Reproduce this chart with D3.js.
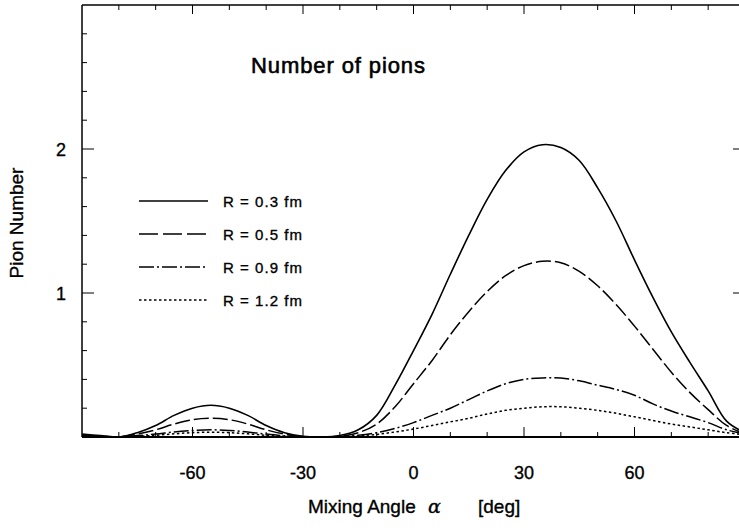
<!DOCTYPE html>
<html>
<head>
<meta charset="utf-8">
<script src="https://cdn.jsdelivr.net/npm/d3@7"></script>
<style>
  html, body { margin: 0; padding: 0; background: #fff; }
  svg { display: block; }
  text { font-family: "Liberation Sans", Arial, sans-serif; fill: #000; stroke: #000; stroke-width: 0.35; }
</style>
</head>
<body>
<script>
// ---- data ----
const angles = [-90,-85,-80,-75,-70,-65,-60,-55,-50,-45,-40,-35,-30,-25,-20,-15,-10,-5,0,5,10,15,20,25,30,35,40,45,50,55,60,65,70,75,80,85,90];
const r03 = [0.02,0.01,0.0,0.03,0.08,0.15,0.20,0.22,0.20,0.15,0.08,0.03,0.005,0.0,0.01,0.05,0.15,0.36,0.60,0.85,1.13,1.40,1.65,1.85,1.98,2.03,2.01,1.92,1.73,1.50,1.23,0.97,0.73,0.52,0.32,0.11,0.03];
const r05 = [0.012,0.006,0.0,0.02,0.05,0.09,0.12,0.13,0.12,0.09,0.05,0.02,0.003,0.0,0.006,0.03,0.09,0.21,0.37,0.53,0.71,0.87,1.01,1.12,1.19,1.22,1.21,1.15,1.05,0.92,0.77,0.61,0.45,0.31,0.19,0.08,0.02];
const r09 = [0.01,0.005,0.0,0.01,0.02,0.035,0.045,0.05,0.045,0.035,0.02,0.008,0.002,0.0,0.003,0.012,0.03,0.06,0.10,0.15,0.20,0.26,0.32,0.37,0.40,0.41,0.41,0.39,0.36,0.33,0.29,0.23,0.18,0.14,0.10,0.05,0.02];
const r12 = [0.005,0.003,0.0,0.005,0.012,0.022,0.03,0.033,0.03,0.022,0.012,0.005,0.001,0.0,0.002,0.008,0.018,0.035,0.055,0.08,0.105,0.13,0.16,0.185,0.20,0.21,0.21,0.20,0.185,0.165,0.14,0.115,0.09,0.07,0.05,0.03,0.015];
const seriesLabels = ["R = 0.3 fm", "R = 0.5 fm", "R = 0.9 fm", "R = 1.2 fm"];
const xTickLabels = [-60, -30, 0, 30, 60];
const yTickLabels = [1, 2];
const titleText = "Number of pions";
const xLabelText = "Mixing Angle";
const yLabelText = "Pion Number";

// ---- styles ----
const dashes = [null, "15,4", "15,3,2,3", "2.5,2.5"];
const seriesVals = [r03, r05, r09, r12];

const W = 739, H = 528;
const svg = d3.select("body").append("svg").attr("width", W).attr("height", H);

const x = d3.scaleLinear().domain([-90, 90]).range([82, 745]);
const y = d3.scaleLinear().domain([0, 3]).range([437, 5]);

// frame
const frame = svg.append("g").attr("fill", "none").attr("stroke", "#000");
frame.append("line").attr("x1", 82).attr("x2", 745).attr("y1", 437).attr("y2", 437).attr("stroke-width", 2);
frame.append("line").attr("x1", 82).attr("x2", 745).attr("y1", 5).attr("y2", 5).attr("stroke-width", 1.4);
frame.append("line").attr("x1", 82).attr("x2", 82).attr("y1", 5).attr("y2", 437).attr("stroke-width", 1.5);
frame.append("line").attr("x1", 745).attr("x2", 745).attr("y1", 5).attr("y2", 437).attr("stroke-width", 1.5);

// x ticks (bottom & top, inward)
const xMinor = d3.range(-80, 90, 10).filter(v => !xTickLabels.includes(v));
const gx = svg.append("g").attr("stroke", "#000").attr("stroke-width", 1);
xTickLabels.forEach(v => {
  gx.append("line").attr("x1", x(v)).attr("x2", x(v)).attr("y1", 437).attr("y2", 427);
  gx.append("line").attr("x1", x(v)).attr("x2", x(v)).attr("y1", 5).attr("y2", 14);
});
xMinor.forEach(v => {
  gx.append("line").attr("x1", x(v)).attr("x2", x(v)).attr("y1", 437).attr("y2", 432);
  gx.append("line").attr("x1", x(v)).attr("x2", x(v)).attr("y1", 5).attr("y2", 10);
});
svg.append("g").selectAll("text").data(xTickLabels).join("text")
  .attr("x", d => x(d)).attr("y", 479)
  .attr("text-anchor", "middle").attr("font-size", 18)
  .text(d => d < 0 ? "-" + Math.abs(d) : d);

// y ticks
const yMinor = d3.range(0.2, 3, 0.2).filter(v => Math.abs(v - 1) > 0.01 && Math.abs(v - 2) > 0.01);
const gy = svg.append("g").attr("stroke", "#000").attr("stroke-width", 1);
yTickLabels.forEach(v => {
  gy.append("line").attr("x1", 82).attr("x2", 94).attr("y1", y(v)).attr("y2", y(v));
  gy.append("line").attr("x1", 745).attr("x2", 733).attr("y1", y(v)).attr("y2", y(v));
});
yMinor.forEach(v => {
  gy.append("line").attr("x1", 82).attr("x2", 87).attr("y1", y(v)).attr("y2", y(v));
  gy.append("line").attr("x1", 745).attr("x2", 740).attr("y1", y(v)).attr("y2", y(v));
});
svg.append("g").selectAll("text").data(yTickLabels).join("text")
  .attr("x", 61).attr("y", d => y(d) + 6.5)
  .attr("text-anchor", "middle").attr("font-size", 18)
  .text(d => d);

// curves
const line = d3.line().x((d, i) => x(angles[i])).y(d => y(d)).curve(d3.curveCatmullRom.alpha(0.5));
const plot = svg.append("g").attr("fill", "none").attr("stroke", "#000");
seriesVals.forEach((vals, k) => {
  const p = plot.append("path").attr("d", line(vals)).attr("stroke-width", 1.6);
  if (dashes[k]) p.attr("stroke-dasharray", dashes[k]).attr("stroke-width", 1.5);
});

// legend
const legY = [201, 234, 267, 300];
const leg = svg.append("g");
seriesLabels.forEach((lab, k) => {
  const l = leg.append("line").attr("x1", 139).attr("x2", 208)
    .attr("y1", legY[k]).attr("y2", legY[k]).attr("stroke", "#000").attr("stroke-width", 1.4);
  if (dashes[k]) l.attr("stroke-dasharray", k === 1 ? "19,5" : dashes[k]);
  leg.append("text").attr("x", 223).attr("y", legY[k] + 6)
    .attr("font-size", 15).attr("textLength", 79).attr("lengthAdjust", "spacing")
    .text(lab);
});

// title
svg.append("text").attr("x", 251).attr("y", 73).attr("font-size", 22)
  .style("stroke-width", 0.6).attr("textLength", 174).attr("lengthAdjust", "spacing")
  .text(titleText);

// x label
const xl = svg.append("text").attr("y", 513).attr("font-size", 19);
xl.append("tspan").attr("x", 308).text(xLabelText);
xl.append("tspan").attr("x", 428).attr("font-style", "italic").attr("font-family", "DejaVu Serif").text("α");
xl.append("tspan").attr("x", 478).text("[deg]");

// y label
svg.append("text").attr("transform", "translate(23,223) rotate(-90)")
  .attr("text-anchor", "middle").attr("font-size", 19)
  .text(yLabelText);
</script>
</body>
</html>
